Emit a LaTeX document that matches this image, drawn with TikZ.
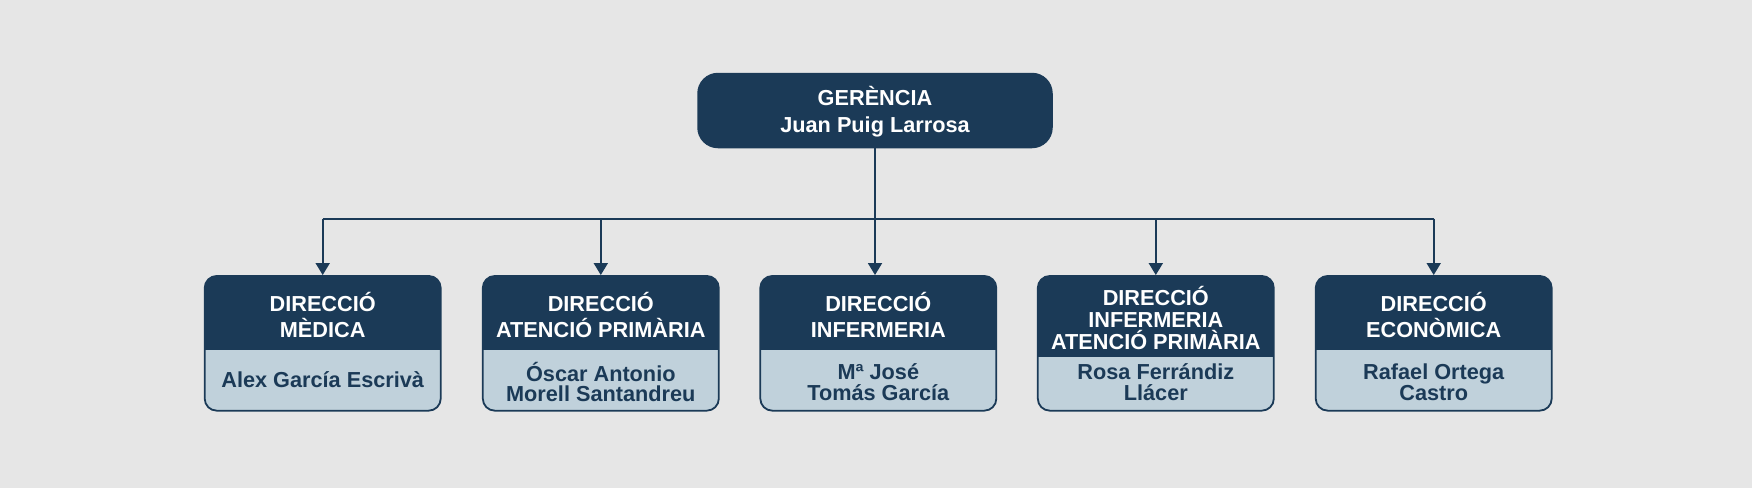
\documentclass[tikz,border=0pt]{standalone}
\usepackage{fontspec}
\setmainfont{Liberation Sans}
\usetikzlibrary{arrows.meta}
\definecolor{navy}{HTML}{1B3A57}
\definecolor{lightb}{HTML}{C0D1DB}
\definecolor{bg}{HTML}{E6E6E6}
\tikzset{
  topbox/.style={rectangle, rounded corners=20pt, fill=navy, draw=navy, line width=1.5pt,
    minimum width=354pt, minimum height=74pt, text=white, align=center, inner sep=0pt,
    font=\fontsize{21.7}{27}\selectfont\bfseries},
  dbox/.style={rectangle, rounded corners=12pt, fill=lightb, draw=navy, line width=1.8pt,
    minimum width=236pt, minimum height=134.7pt, inner sep=0pt,
    path picture={\fill[navy, sharp corners] (path picture bounding box.north west) rectangle ([yshift=-#1]path picture bounding box.north east);}},
  htext/.style={text=white, align=center, inner sep=0pt, font=\fontsize{21.7}{25.7}\selectfont\bfseries},
  htextt/.style={text=white, align=center, inner sep=0pt, font=\fontsize{21.7}{22}\selectfont\bfseries},
  ntext/.style={text=navy, align=center, inner sep=0pt, font=\fontsize{21.7}{20.5}\selectfont\bfseries},
  conn/.style={draw=navy, line width=1.8pt},
  arr/.style={conn, -{Triangle[length=12pt,width=14pt]}},
}
\begin{document}
\begin{tikzpicture}[x=1pt,y=-1pt]
\fill[bg] (0,0) rectangle (1752,488);
\useasboundingbox (0,0) rectangle (1752,488);

\node[topbox] (g) at (875,110.5) {};
\node[text=white, align=center, inner sep=0pt, font=\fontsize{21.7}{27}\selectfont\bfseries] (gt) at (875,112) {GERÈNCIA\\Juan Puig Larrosa};

\node[dbox=74pt] (b1) at (322.7,343.3) {};
\node[dbox=74pt] (b2) at (600.8,343.3) {};
\node[dbox=74pt] (b3) at (878.3,343.3) {};
\node[dbox=80.7pt] (b4) at (1155.8,343.3) {};
\node[dbox=74pt] (b5) at (1433.7,343.3) {};

\node[htext] (h1) at (322.7,315) {DIRECCIÓ\\MÈDICA};
\node[htext] (h2) at (600.8,315) {DIRECCIÓ\\ATENCIÓ PRIMÀRIA};
\node[htext] (h3) at (878.3,315) {DIRECCIÓ\\INFERMERIA};
\node[htextt] (h4) at (1155.8,318) {DIRECCIÓ\\INFERMERIA\\ATENCIÓ PRIMÀRIA};
\node[htext] (h5) at (1433.7,315) {DIRECCIÓ\\ECONÒMICA};

\node[ntext] (n1) at (322.7,380) {Alex García Escrivà};
\node[ntext] (n2) at (600.8,382) {Óscar Antonio\\Morell Santandreu};
\node[ntext] (n3) at (878.3,382) {Mª José\\Tomás García};
\node[ntext] (n4) at (1155.8,382) {Rosa Ferrándiz\\Llácer};
\node[ntext] (n5) at (1433.7,382) {Rafael Ortega\\Castro};

\coordinate (bus) at (0,218.7);
\draw[conn] (g.south) -- (g.south |- bus);
\draw[conn] (b1.north |- bus) -- (b5.north |- bus);
\draw[arr] (b1.north |- bus) -- (b1.north);
\draw[arr] (b2.north |- bus) -- (b2.north);
\draw[arr] (g.south |- bus) -- (g.south |- b3.north);
\draw[arr] (b4.north |- bus) -- (b4.north);
\draw[arr] (b5.north |- bus) -- (b5.north);
\end{tikzpicture}
\end{document}
